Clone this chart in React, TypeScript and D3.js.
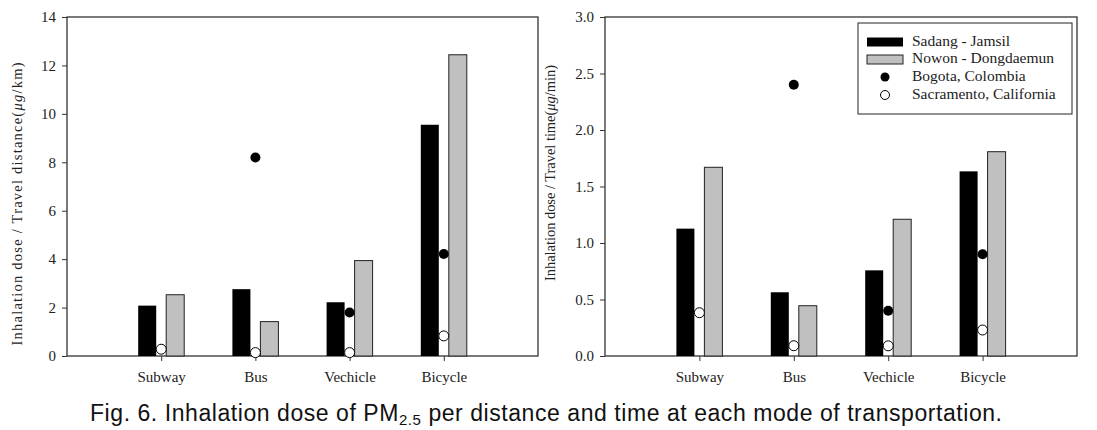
import React, { useRef, useEffect } from 'react';
import * as d3 from 'd3';

const modes = ['Subway', 'Bus', 'Vechicle', 'Bicycle'];

// per distance (ug/km)
const distSadang = [2.08, 2.76, 2.22, 9.55];
const distNowon = [2.53, 1.42, 3.94, 12.44];
const distBogota = [null, 8.2, 1.8, 4.21];
const distSacramento = [0.28, 0.14, 0.14, 0.83];

// per time (ug/min)
const timeSadang = [1.127, 0.564, 0.758, 1.634];
const timeNowon = [1.67, 0.445, 1.21, 1.808];
const timeBogota = [null, 2.4, 0.4, 0.9];
const timeSacramento = [0.383, 0.091, 0.09, 0.23];

const distTicks = [0, 2, 4, 6, 8, 10, 12, 14];
const timeTicks = [0, 0.5, 1.0, 1.5, 2.0, 2.5, 3.0];

const legendLabels = ['Sadang - Jamsil', 'Nowon - Dongdaemun', 'Bogota, Colombia', 'Sacramento, California'];

const serif = 'Liberation Serif, Times New Roman, DejaVu Serif, serif';

const drawPanel = (svg, opts) => {
    const { x0, x1, y0, y1, yMax, ticks, fmt, title, titleX, titleY, titleLen, black, gray, bogota, sacramento } = opts;

    const xScale = d3.scaleLinear().domain([0, 5]).range([x0, x1]);
    const yScale = d3.scaleLinear().domain([0, yMax]).range([y1, y0]);

    const g = svg.append('g');

    // frame
    g.append('rect')
        .attr('x', x0)
        .attr('y', y0)
        .attr('width', x1 - x0)
        .attr('height', y1 - y0)
        .attr('fill', 'none')
        .attr('stroke', '#333')
        .attr('stroke-width', 1.3);

    const yAxis = d3.axisLeft(yScale).tickValues(ticks).tickSize(5).tickPadding(6).tickFormat(fmt);
    const ya = g.append('g').attr('transform', `translate(${x0},0)`).call(yAxis);
    ya.attr('font-family', serif).attr('font-size', 15);
    ya.select('.domain').remove();
    ya.selectAll('line').attr('stroke', '#333');
    ya.selectAll('text').attr('fill', '#222');

    const xAxis = d3.axisBottom(xScale)
        .tickValues([1, 2, 3, 4])
        .tickSize(5)
        .tickPadding(10)
        .tickFormat(d => modes[d - 1]);
    const xa = g.append('g').attr('transform', `translate(0,${y1})`).call(xAxis);
    xa.attr('font-family', serif).attr('font-size', 15);
    xa.select('.domain').remove();
    xa.selectAll('line').attr('stroke', '#333');
    xa.selectAll('text').attr('fill', '#222');

    const barW = 18;

    g.selectAll('.black')
        .data(black)
        .enter()
        .append('rect')
        .attr('x', (d, i) => xScale(i + 1) - 23)
        .attr('y', d => yScale(d))
        .attr('width', barW)
        .attr('height', d => y1 - yScale(d))
        .attr('fill', '#000');

    g.selectAll('.gray')
        .data(gray)
        .enter()
        .append('rect')
        .attr('x', (d, i) => xScale(i + 1) + 5)
        .attr('y', d => yScale(d))
        .attr('width', barW)
        .attr('height', d => y1 - yScale(d))
        .attr('fill', '#c0c0c0')
        .attr('stroke', '#222')
        .attr('stroke-width', 1);

    g.selectAll('.bog')
        .data(bogota.map((v, i) => ({ v, i })).filter(d => d.v != null))
        .enter()
        .append('circle')
        .attr('cx', d => xScale(d.i + 1))
        .attr('cy', d => yScale(d.v))
        .attr('r', 5)
        .attr('fill', '#000');

    g.selectAll('.sac')
        .data(sacramento)
        .enter()
        .append('circle')
        .attr('cx', (d, i) => xScale(i + 1))
        .attr('cy', d => yScale(d))
        .attr('r', 5)
        .attr('fill', '#fff')
        .attr('stroke', '#000')
        .attr('stroke-width', 1);

    const t = g.append('text')
        .attr('transform', `translate(${titleX},${titleY}) rotate(-90)`)
        .attr('text-anchor', 'middle')
        .attr('dominant-baseline', 'middle')
        .attr('textLength', titleLen)
        .attr('lengthAdjust', 'spacing')
        .attr('font-family', serif)
        .attr('font-size', 14.5)
        .attr('fill', '#222');
    t.append('tspan').text(title[0]);
    t.append('tspan').attr('font-style', 'italic').text('μg');
    t.append('tspan').text(title[1]);
};

const App = () => {
    const ref = useRef();

    useEffect(() => {
        d3.select(ref.current).selectAll('*').remove();

        const svg = d3.select(ref.current)
            .attr('width', 1097)
            .attr('height', 430);

        svg.append('rect').attr('width', 1097).attr('height', 430).attr('fill', '#fff');

        drawPanel(svg, {
            x0: 67, x1: 538, y0: 17, y1: 356,
            yMax: 14, ticks: distTicks, fmt: d3.format('d'),
            title: ['Inhalation dose / Travel distance(', '/km)'], titleX: 19, titleY: 204, titleLen: 283,
            black: distSadang, gray: distNowon, bogota: distBogota, sacramento: distSacramento
        });

        drawPanel(svg, {
            x0: 605, x1: 1077, y0: 17, y1: 356,
            yMax: 3, ticks: timeTicks, fmt: d3.format('.1f'),
            title: ['Inhalation dose / Travel time(', '/min)'], titleX: 552, titleY: 173, titleLen: 216,
            black: timeSadang, gray: timeNowon, bogota: timeBogota, sacramento: timeSacramento
        });

        // legend
        const lg = svg.append('g');
        lg.append('rect')
            .attr('x', 858).attr('y', 23).attr('width', 214).attr('height', 91)
            .attr('fill', '#fff').attr('stroke', '#222').attr('stroke-width', 1);

        const rowY = [42, 59.5, 77, 95];
        lg.append('rect').attr('x', 867).attr('y', rowY[0] - 4.5).attr('width', 36).attr('height', 9).attr('fill', '#000');
        lg.append('rect').attr('x', 867).attr('y', rowY[1] - 4.5).attr('width', 36).attr('height', 9)
            .attr('fill', '#c0c0c0').attr('stroke', '#222').attr('stroke-width', 1);
        lg.append('circle').attr('cx', 885).attr('cy', rowY[2]).attr('r', 4.5).attr('fill', '#000');
        lg.append('circle').attr('cx', 885).attr('cy', rowY[3]).attr('r', 4.5)
            .attr('fill', '#fff').attr('stroke', '#000').attr('stroke-width', 1);

        lg.selectAll('.lt')
            .data(legendLabels)
            .enter()
            .append('text')
            .attr('x', 912)
            .attr('y', (d, i) => rowY[i])
            .attr('dominant-baseline', 'middle')
            .attr('font-family', serif)
            .attr('font-size', 15.5)
            .attr('fill', '#222')
            .text(d => d);

        // caption
        const cap = svg.append('text')
            .attr('x', 90)
            .attr('y', 421)
            .attr('textLength', 912)
            .attr('lengthAdjust', 'spacing')
            .attr('font-family', 'Liberation Sans, Arial, sans-serif')
            .attr('font-size', 23)
            .attr('fill', '#111');
        cap.append('tspan').text('Fig. 6. Inhalation dose of PM');
        cap.append('tspan').attr('dy', 4).attr('font-size', 15).text('2.5');
        cap.append('tspan').attr('dy', -4).text(' per distance and time at each mode of transportation.');
    }, []);

    return (
        <div style={{ position: 'absolute', left: 0, top: 0 }}>
            <svg ref={ref} style={{ display: 'block' }}></svg>
        </div>
    );
};

export default App;
